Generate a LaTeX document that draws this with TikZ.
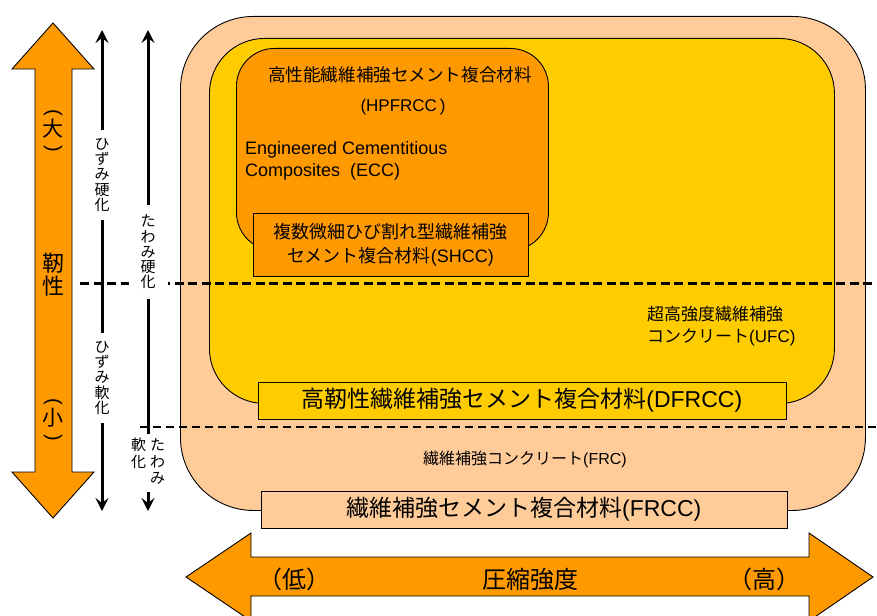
\documentclass[tikz,border=0pt]{standalone}
\usepackage{fontspec}
\usepackage{graphicx}
\setmainfont{Liberation Sans}
\newfontfamily\jp{Noto Sans CJK JP}
\usetikzlibrary{arrows.meta}
\definecolor{peach}{HTML}{FFCC99}
\definecolor{gold}{HTML}{FFCC00}
\definecolor{orng}{HTML}{FF9900}
\newcommand\vparopen{\rotatebox[origin=c]{-90}{\rmfamily\fontsize{20}{20}\selectfont (}}
\newcommand\vparclose{\rotatebox[origin=c]{-90}{\rmfamily\fontsize{20}{20}\selectfont )}}
\begin{document}
\begin{tikzpicture}[x=1pt,y=-1pt,
  box/.style={draw=black, line width=0.9pt},
  vlab/.style={fill=white, inner xsep=3pt, inner ysep=8pt, align=center,
    font=\jp\fontsize{15}{15.3}\selectfont},
  strainarrow/.style={line width=3pt,
    {Stealth[length=13pt,width=13pt,inset=5pt]}-{Stealth[length=13pt,width=13pt,inset=5pt]}},
  txt/.style={inner sep=0pt, align=center},
]
\useasboundingbox (0,0) rectangle (877,615);
\clip (0,0) rectangle (877,615);

% nested regions
\node[box, fill=peach, rounded corners=73pt, minimum width=685pt, minimum height=494pt,
  anchor=north west, inner sep=0pt] (frcarea) at (180,16) {};
\node[box, fill=gold, rounded corners=55pt, minimum width=625pt, minimum height=365pt,
  anchor=north west, inner sep=0pt] (ufcarea) at (209,38) {};
\node[box, fill=orng, rounded corners=38pt, minimum width=312pt, minimum height=202pt,
  anchor=north west, inner sep=0pt] (hparea) at (236,48) {};

% labelled boxes
\node[box, fill=orng, minimum width=275pt, minimum height=63pt, txt,
  font=\jp\fontsize{18}{24}\selectfont] (shcc) at (390.5,244.5)
  {複数微細ひび割れ型繊維補強\\セメント複合材料{\rmfamily (SHCC)}};
\node[box, fill=gold, minimum width=528pt, minimum height=37pt, txt,
  font=\jp\fontsize{23}{26}\selectfont] (dfrcc) at (522,400.5)
  {高靭性繊維補強セメント複合材料{\rmfamily (DFRCC)}};
\node[box, fill=peach, minimum width=526pt, minimum height=37pt, txt,
  font=\jp\fontsize{23}{26}\selectfont] (frcc) at (524,509.5)
  {繊維補強セメント複合材料{\rmfamily (FRCC)}};

% texts inside regions
\node[txt, font=\jp\fontsize{17.6}{20}\selectfont] (hpj) at (400,75) {高性能繊維補強セメント複合材料};
\node[txt, font=\fontsize{17}{20}\selectfont] (hpe) at (403,107) {(HPFRCC\,)};
\node[txt, anchor=west, align=left, font=\fontsize{18}{22.5}\selectfont] (ecc) at (245,161)
  {Engineered Cementitious\\Composites\ \ (ECC)};
\node[txt, anchor=west, align=left, font=\jp\fontsize{17}{22}\selectfont] (ufc) at (647,326)
  {超高強度繊維補強\\コンクリート{\rmfamily (UFC)}};
\node[txt, font=\jp\fontsize{16}{20}\selectfont] (frc) at (525,459)
  {繊維補強コンクリート{\rmfamily (FRC)}};

% left toughness arrow
\draw[box, fill=orng] (53,23) -- (94,69) -- (72,69) -- (72,472) -- (94,472) -- (53,518)
  -- (12,472) -- (35,472) -- (35,69) -- (12,69) -- cycle;
\node[txt, font=\jp\fontsize{21}{21}\selectfont] (dai) at (53,132)
  {\vparopen\\[-3pt]大\\[-3pt]\vparclose};
\node[txt, font=\jp\fontsize{22}{23}\selectfont] (jinsei) at (53,275) {靭\\性};
\node[txt, font=\jp\fontsize{21}{21}\selectfont] (sho) at (53,421)
  {\vparopen\\[-3pt]小\\[-3pt]\vparclose};

% bottom compressive strength arrow
\draw[box, fill=orng] (186,577) -- (251,533) -- (251,557) -- (809,557) -- (809,533)
  -- (873,577) -- (809,621) -- (809,596) -- (251,596) -- (251,621) -- cycle;
\node[txt, font=\jp\fontsize{24}{26}\selectfont] (asshuku) at (530,579) {圧縮強度};
\node[txt, font=\jp\fontsize{24}{26}\selectfont] (low) at (294,579) {（低）};
\node[txt, font=\jp\fontsize{24}{26}\selectfont] (high) at (764,579) {（高）};

% dashed boundaries
\coordinate (d1s) at (80,283);
\coordinate (d1e) at (877,283);
\coordinate (d2s) at (140,427);
\coordinate (d2e) at (877,427);
\draw[line width=3pt, dash pattern=on 9pt off 4.5pt] (d1s) -- (d1e);
\draw[line width=2pt, dash pattern=on 8pt off 5pt] (d2s) -- (d2e);

% strain / deflection arrows
\coordinate (st) at (102,30);
\coordinate (sb) at (102,511);
\coordinate (dt) at (148,30);
\coordinate (db) at (148,511);
\draw[strainarrow] (st) -- (sb);
\draw[strainarrow] (dt) -- (db);

\node[vlab] (sh) at (102,175) {ひ\\ず\\み\\硬\\化};
\node[vlab] (ss) at (102,378) {ひ\\ず\\み\\軟\\化};
\node[vlab, inner xsep=12pt, inner ysep=10pt] (dh) at (148,252) {た\\わ\\み\\硬\\化};
\node[fill=white, inner xsep=2pt, inner ysep=4pt, font=\jp\fontsize{15}{15.3}\selectfont] (ds) at (148,463)
  {\begin{tabular}[t]{@{}c@{}}軟\\化\end{tabular}\hspace{4pt}\begin{tabular}[t]{@{}c@{}}た\\わ\\み\end{tabular}};
\end{tikzpicture}
\end{document}
